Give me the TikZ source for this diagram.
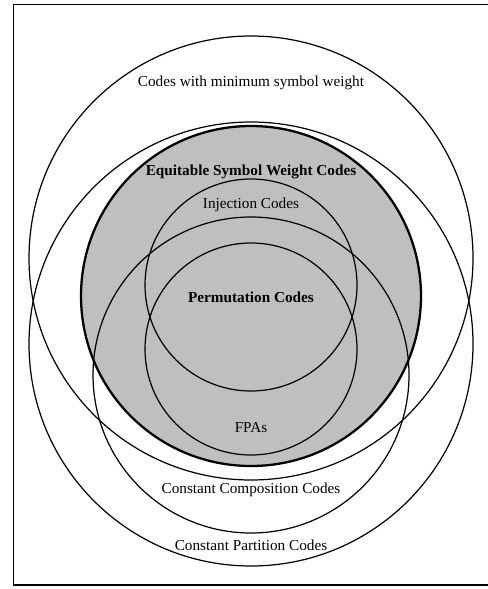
\documentclass[tikz,border=0pt]{standalone}
\usepackage{fontspec}
\setmainfont{Liberation Serif}
\definecolor{eswgray}{gray}{0.75}

\begin{document}
\begin{tikzpicture}[x=0.656pt,y=0.656pt,line width=0.8pt,
    setlabel/.style={inner sep=1pt}]
    \useasboundingbox (0,0) rectangle (487,-589);
    \draw[line width=1pt] (490,-4.7) -- (13.3,-4.7) -- (13.3,-585) -- (490,-585);
    \filldraw[fill=eswgray,line width=1.5pt] (251,-296) circle (170);
    \draw (251,-258) circle (222);
    \draw (251,-344) circle (222);
    \draw (251,-375) circle (158);
    \draw (251,-285) circle (106);
    \draw (251,-349) circle (106);
    \node[setlabel] (minw) at (251,-83) {Codes with minimum symbol weight};
    \node[setlabel] (esw) at (251,-172) {\textbf{Equitable Symbol Weight Codes}};
    \node[setlabel] (inj) at (251,-205) {Injection Codes};
    \node[setlabel] (perm) at (251,-297) {\textbf{Permutation Codes}};
    \node[setlabel] (fpa) at (251,-428) {FPAs};
    \node[setlabel] (ccc) at (251,-490) {Constant Composition Codes};
    \node[setlabel] (cpc) at (251,-545) {Constant Partition Codes};
\end{tikzpicture}
\end{document}
